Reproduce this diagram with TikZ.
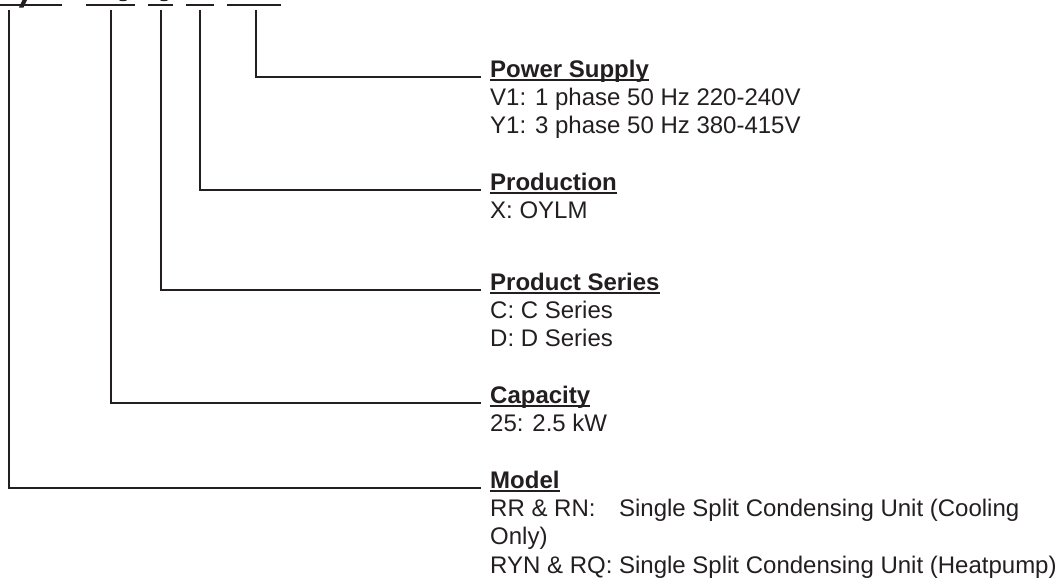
\documentclass[tikz,border=0pt]{standalone}
\usepackage{fontspec}
\setmainfont{Liberation Sans}
\definecolor{ink}{HTML}{231F20}
\newcommand\myul[1]{\setbox0\hbox{#1}\rlap{\rule[-0.16em]{\wd0}{0.075em}}\box0}
\begin{document}
\begin{tikzpicture}[x=1pt,y=1pt,
  txt/.style={anchor=base west,inner sep=0pt,text=ink,font=\fontsize{24}{28}\selectfont},
  head/.style={txt,font=\fontsize{24}{28}\selectfont\bfseries},
  conn/.style={draw=ink,line width=1.6pt},
  bar/.style={draw=ink,line width=2.2pt}]
\useasboundingbox (0,0) rectangle (1063,-584);
% cropped code characters at the top edge
\draw[bar] (0,-5) -- (62,-5);
\draw[bar] (86,-5) -- (135,-5);
\draw[bar] (148,-5) -- (173,-5);
\draw[bar] (186,-5) -- (214,-5);
\draw[bar] (227,-5) -- (281,-5);
\fill[ink] (19,-7.5) -- (23.5,-7.5) -- (27,0) -- (22.5,0) -- cycle;
\fill[ink] (123,0) ellipse (4 and 1.2);
\fill[ink] (164,0) ellipse (4 and 1.2);
\coordinate (t1) at (9,-10);
\coordinate (t2) at (111,-10);
\coordinate (t3) at (161,-10);
\coordinate (t4) at (200,-10);
\coordinate (t5) at (256,-10);
% Power Supply
\node[head] (ps) at (490,-77) {\myul{Power Supply}};
\node[txt] (ps1) at (490,-105.5) {V1: 1 phase 50 Hz 220-240V};
\node[txt] (ps2) at (490,-133.8) {Y1: 3 phase 50 Hz 380-415V};
% Production
\node[head] (pr) at (490,-190) {\myul{Production}};
\node[txt] (pr1) at (490,-218) {X: OYLM};
% Product Series
\node[head] (se) at (490,-290) {\myul{Product Series}};
\node[txt] (se1) at (490,-318) {C: C Series};
\node[txt] (se2) at (490,-346) {D: D Series};
% Capacity
\node[head] (ca) at (490,-403) {\myul{Capacity}};
\node[txt] (ca1) at (490,-431) {25: 2.5 kW};
% Model
\node[head] (mo) at (490,-488) {\myul{Model}};
\node[txt] (mo1) at (490,-516) {\rlap{RR \& RN:}\phantom{RYN \& RQ: }Single Split Condensing Unit (Cooling};
\node[txt] (mo2) at (490,-544.5) {Only)};
\node[txt] (mo3) at (490,-573) {RYN \& RQ: Single Split Condensing Unit (Heatpump)};
% connectors
\draw[conn] (t5) |- ([xshift=-9pt]ps.base west);
\draw[conn] (t4) |- ([xshift=-9pt]pr.base west);
\draw[conn] (t3) |- ([xshift=-9pt]se.base west);
\draw[conn] (t2) |- ([xshift=-9pt]ca.base west);
\draw[conn] (t1) |- ([xshift=-9pt]mo.base west);
\end{tikzpicture}
\end{document}
